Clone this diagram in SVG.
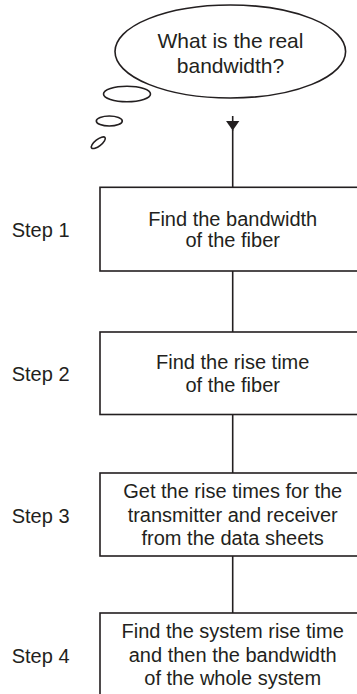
<svg xmlns="http://www.w3.org/2000/svg" width="357" height="694" viewBox="0 0 357 694">
  <style>
    .shape { fill: #fff; stroke: #231f20; stroke-width: 1.6; }
    .line { fill: none; stroke: #231f20; stroke-width: 1.6; }
    text { font-family: "Liberation Sans", Arial, Helvetica, sans-serif; font-size: 20px; fill: #231f20; }
    .c { text-anchor: middle; }
    .q { font-size: 21px; }
  </style>
  <defs>
    <!-- solid triangular head, drawn along the path direction -->
    <marker id="arrow" viewBox="0 0 10 14" refX="10" refY="7" markerWidth="10" markerHeight="14" markerUnits="userSpaceOnUse" orient="auto">
      <path d="M0,0 L10,7 L0,14 Z" fill="#231f20"/>
    </marker>
  </defs>

  <rect width="357" height="694" fill="#fff"/>

  <!-- thought bubble -->
  <g id="question">
    <ellipse class="shape" cx="230.3" cy="51.5" rx="115.3" ry="46.5"/>
    <ellipse class="shape" cx="127" cy="94" rx="23.5" ry="7.7"/>
    <ellipse class="shape" cx="109.3" cy="121" rx="13" ry="5"/>
    <ellipse class="shape" cx="98.3" cy="142.7" rx="8.5" ry="3.3" transform="rotate(-38 98.3 142.7)"/>
    <text class="c q" x="230.5" y="48.3">What is the real</text>
    <text class="c q" x="230.5" y="72.7">bandwidth?</text>
  </g>

  <!-- connectors -->
  <g id="connectors">
    <line class="line" x1="232.7" y1="116" x2="232.7" y2="130.5" marker-end="url(#arrow)"/>
    <line class="line" x1="232.7" y1="130" x2="232.7" y2="187"/>
    <line class="line" x1="232.7" y1="271" x2="232.7" y2="332"/>
    <line class="line" x1="232.7" y1="414.5" x2="232.7" y2="473"/>
    <line class="line" x1="232.7" y1="556" x2="232.7" y2="613"/>
  </g>

  <g id="step1">
    <text x="11.7" y="236.7">Step 1</text>
    <rect class="shape" x="100" y="187.3" width="266" height="83.7"/>
    <text class="c" x="232.7" y="225.7">Find the bandwidth</text>
    <text class="c" x="232.7" y="246.7">of the fiber</text>
  </g>

  <g id="step2">
    <text x="11.7" y="381">Step 2</text>
    <rect class="shape" x="100" y="332" width="266" height="82.5"/>
    <text class="c" x="232.7" y="368.5">Find the rise time</text>
    <text class="c" x="232.7" y="391.5">of the fiber</text>
  </g>

  <g id="step3">
    <text x="11.7" y="522.7">Step 3</text>
    <rect class="shape" x="100" y="473" width="266" height="83"/>
    <text class="c" x="232.7" y="498.3">Get the rise times for the</text>
    <text class="c" x="232.7" y="521.7">transmitter and receiver</text>
    <text class="c" x="232.7" y="545">from the data sheets</text>
  </g>

  <g id="step4">
    <text x="11.7" y="662.7">Step 4</text>
    <rect class="shape" x="100" y="613" width="266" height="90"/>
    <text class="c" x="232.7" y="638.3">Find the system rise time</text>
    <text class="c" x="232.7" y="661.7">and then the bandwidth</text>
    <text class="c" x="232.7" y="685">of the whole system</text>
  </g>
</svg>
